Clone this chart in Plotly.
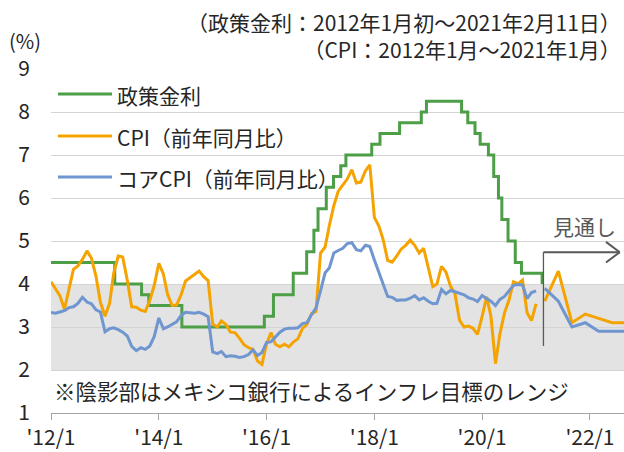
import plotly.graph_objects as go
import pandas as pd

# ---------------- data ----------------
# Policy rate change dates and levels (step line)
rate_dates = ["2012-01-01", "2013-03-08", "2013-09-06", "2013-10-25", "2014-06-06",
              "2015-12-17", "2016-02-17", "2016-06-30", "2016-09-29", "2016-11-17",
              "2016-12-15", "2017-02-09", "2017-03-30", "2017-05-18", "2017-06-22",
              "2017-12-14", "2018-02-08", "2018-06-21", "2018-11-15", "2018-12-20",
              "2019-08-15", "2019-09-26", "2019-11-14", "2019-12-19", "2020-02-13",
              "2020-03-20", "2020-04-21", "2020-05-14", "2020-06-25", "2020-08-13",
              "2020-09-24", "2021-02-11"]
rate_values = [4.5, 4.0, 3.75, 3.5, 3.0,
               3.25, 3.75, 4.25, 4.75, 5.25,
               5.75, 6.25, 6.5, 6.75, 7.0,
               7.25, 7.5, 7.75, 8.0, 8.25,
               8.0, 7.75, 7.5, 7.25, 7.0,
               6.5, 6.0, 5.5, 5.0, 4.5,
               4.25, 4.0]

cpi_months = pd.date_range("2012-01-01", "2021-01-01", freq="MS")
cpi_values = [4.05, 3.87, 3.73, 3.41, 3.85, 4.34, 4.42, 4.57, 4.77, 4.60, 4.18, 3.57,
              3.25, 3.55, 4.25, 4.65, 4.63, 4.09, 3.47, 3.46, 3.39, 3.36, 3.62, 3.97,
              4.48, 4.23, 3.76, 3.50, 3.51, 3.75, 4.07, 4.15, 4.22, 4.30, 4.17, 4.08,
              3.07, 3.00, 3.14, 3.06, 2.88, 2.87, 2.74, 2.59, 2.52, 2.48, 2.21, 2.13,
              2.61, 2.87, 2.60, 2.54, 2.60, 2.54, 2.65, 2.73, 2.97, 3.06, 3.31, 3.36,
              4.72, 4.86, 5.35, 5.82, 6.16, 6.31, 6.44, 6.66, 6.35, 6.37, 6.63, 6.77,
              5.55, 5.34, 5.04, 4.55, 4.51, 4.65, 4.81, 4.90, 5.02, 4.90, 4.72, 4.83,
              4.37, 3.94, 4.00, 4.41, 4.28, 3.95, 3.78, 3.16, 3.00, 3.02, 2.97, 2.83,
              3.24, 3.70, 3.25, 2.15, 2.84, 3.33, 3.62, 4.05, 4.01, 4.09, 3.33, 3.15,
              3.54]
core_values = [3.34, 3.32, 3.35, 3.38, 3.45, 3.47, 3.55, 3.69, 3.58, 3.54, 3.40, 3.35,
               2.89, 2.96, 2.98, 2.94, 2.88, 2.79, 2.55, 2.45, 2.52, 2.48, 2.56, 2.78,
               3.21, 2.96, 3.00, 3.07, 3.12, 3.27, 3.34, 3.33, 3.32, 3.34, 3.30, 3.24,
               2.42, 2.38, 2.43, 2.31, 2.33, 2.32, 2.29, 2.31, 2.36, 2.47, 2.34, 2.41,
               2.64, 2.66, 2.76, 2.88, 2.95, 2.97, 2.97, 2.98, 3.08, 3.10, 3.29, 3.44,
               3.84, 4.26, 4.37, 4.72, 4.78, 4.83, 4.94, 4.96, 4.80, 4.77, 4.90, 4.87,
               4.56, 4.27, 4.02, 3.71, 3.69, 3.62, 3.63, 3.63, 3.67, 3.73, 3.63, 3.68,
               3.60, 3.54, 3.55, 3.87, 3.77, 3.85, 3.82, 3.78, 3.75, 3.68, 3.65, 3.59,
               3.73, 3.66, 3.60, 3.50, 3.64, 3.71, 3.85, 3.97, 3.99, 3.98, 3.66, 3.80,
               3.84]

# Forecast (quarterly)
fc_months = ["2021-03-01", "2021-06-01", "2021-09-01", "2021-12-01",
             "2022-03-01", "2022-06-01", "2022-09-01"]
fc_cpi = [3.6, 4.3, 3.1, 3.3, 3.2, 3.1, 3.1]
fc_core = [3.9, 3.6, 3.0, 3.1, 2.9, 2.9, 2.9]

tick_dates = ["2012-01-01", "2014-01-01", "2016-01-01", "2018-01-01",
              "2020-01-01", "2022-01-01"]
tick_labels = ["'12/1", "'14/1", "'16/1", "'18/1", "'20/1", "'22/1"]

names = ["政策金利", "CPI（前年同月比）", "コアCPI（前年同月比）"]
colors = ["#4C9E47", "#F5A300", "#7096D0"]

FONT = "Noto Sans CJK JP"
TXT = "#262626"
FS = 21

# ---------------- figure ----------------
W, H = 624, 452
ML, MR, MT, MB = 51, 0, 69, 39
PW, PH = W - ML - MR, H - MT - MB


def px_x(x):
    return (x - ML) / PW


def px_y(y):
    return (H - MB - y) / PH


fig = go.Figure()
fig.add_trace(go.Scatter(x=rate_dates, y=rate_values, mode="lines", line_shape="hv",
                         line=dict(color=colors[0], width=3), name=names[0]))
fig.add_trace(go.Scatter(x=cpi_months, y=cpi_values, mode="lines",
                         line=dict(color=colors[1], width=3), name=names[1]))
fig.add_trace(go.Scatter(x=cpi_months, y=core_values, mode="lines",
                         line=dict(color=colors[2], width=3), name=names[2]))
fig.add_trace(go.Scatter(x=fc_months, y=fc_cpi, mode="lines",
                         line=dict(color=colors[1], width=3), name=names[1] + " 見通し"))
fig.add_trace(go.Scatter(x=fc_months, y=fc_core, mode="lines",
                         line=dict(color=colors[2], width=3), name=names[2] + " 見通し"))

shapes = []
# inflation target band
shapes.append(dict(type="rect", xref="paper", yref="y", x0=0, x1=1, y0=2, y1=4,
                   fillcolor="#E3E3E3", line=dict(width=0), layer="below"))
# forecast arrow
arrow_x0, arrow_x1, arrow_head = "2021-02-20", "2022-07-22", "2022-04-20"
arrow_y, arrow_bottom, head_dy = 4.74, 2.56, 0.24
arrow_col = "#595959"
shapes.append(dict(type="line", xref="x", yref="y", x0=arrow_x0, x1=arrow_x0,
                   y0=arrow_bottom, y1=arrow_y, line=dict(color=arrow_col, width=1.3)))
shapes.append(dict(type="line", xref="x", yref="y", x0=arrow_x0, x1=arrow_x1,
                   y0=arrow_y, y1=arrow_y, line=dict(color=arrow_col, width=2)))
shapes.append(dict(type="line", xref="x", yref="y", x0=arrow_head, x1=arrow_x1,
                   y0=arrow_y + head_dy, y1=arrow_y, line=dict(color=arrow_col, width=2)))
shapes.append(dict(type="line", xref="x", yref="y", x0=arrow_head, x1=arrow_x1,
                   y0=arrow_y - head_dy, y1=arrow_y, line=dict(color=arrow_col, width=2)))

annotations = []
# legend (manual)
leg_y = [95, 137, 178]
for nm, col, yy in zip(names, colors, leg_y):
    shapes.append(dict(type="line", xref="paper", yref="paper", x0=px_x(58), x1=px_x(112),
                       y0=px_y(yy - 1), y1=px_y(yy - 1), line=dict(color=col, width=3)))
    annotations.append(dict(text=nm, xref="paper", yref="paper", x=px_x(115), y=px_y(yy),
                            xanchor="left", yanchor="middle", showarrow=False,
                            font=dict(size=FS, color=TXT, family=FONT)))

annotations += [
    dict(text="（政策金利：2012年1月初～2021年2月11日）<br>（CPI：2012年1月～2021年1月）",
         xref="paper", yref="paper", align="right",
         x=px_x(623), y=px_y(35), xanchor="right", yanchor="middle", showarrow=False,
         font=dict(size=FS, color=TXT, family=FONT)),
    dict(text="(%)", xref="paper", yref="paper", x=px_x(25), y=px_y(40),
         xanchor="center", yanchor="middle", showarrow=False,
         font=dict(size=20, color=TXT, family=FONT)),
    dict(text="※陰影部はメキシコ銀行によるインフレ目標のレンジ", xref="paper", yref="paper",
         x=px_x(52), y=px_y(390), xanchor="left", yanchor="middle", showarrow=False,
         font=dict(size=21.5, color=TXT, family=FONT)),
    dict(text="見通し", xref="x", yref="paper", x="2021-11-25", y=px_y(226),
         xanchor="center", yanchor="middle", showarrow=False,
         font=dict(size=FS, color=arrow_col, family=FONT)),
]

fig.update_layout(
    width=W, height=H,
    margin=dict(l=ML, r=MR, t=MT, b=MB, autoexpand=False),
    paper_bgcolor="white", plot_bgcolor="white",
    showlegend=False,
    shapes=shapes, annotations=annotations,
    font=dict(family=FONT, size=FS, color=TXT),
)
fig.update_xaxes(type="date", range=["2012-01-01", "2022-08-20"],
                 tickvals=tick_dates, ticktext=tick_labels,
                 showgrid=False, showline=True, linecolor="#A6A6A6", linewidth=1,
                 ticks="outside", ticklen=6, tickcolor="#A6A6A6",
                 tickfont=dict(size=FS, color=TXT, family=FONT), zeroline=False)
fig.update_yaxes(range=[1, 9], dtick=1, tick0=1, showgrid=True, gridcolor="#D4D4D4",
                 gridwidth=1, showline=False, zeroline=False, ticks="",
                 ticklabelstandoff=20,
                 tickfont=dict(size=FS, color=TXT, family=FONT))

fig.write_html("out.html", config={"displayModeBar": False},
               post_script="document.body.style.margin='0';")
